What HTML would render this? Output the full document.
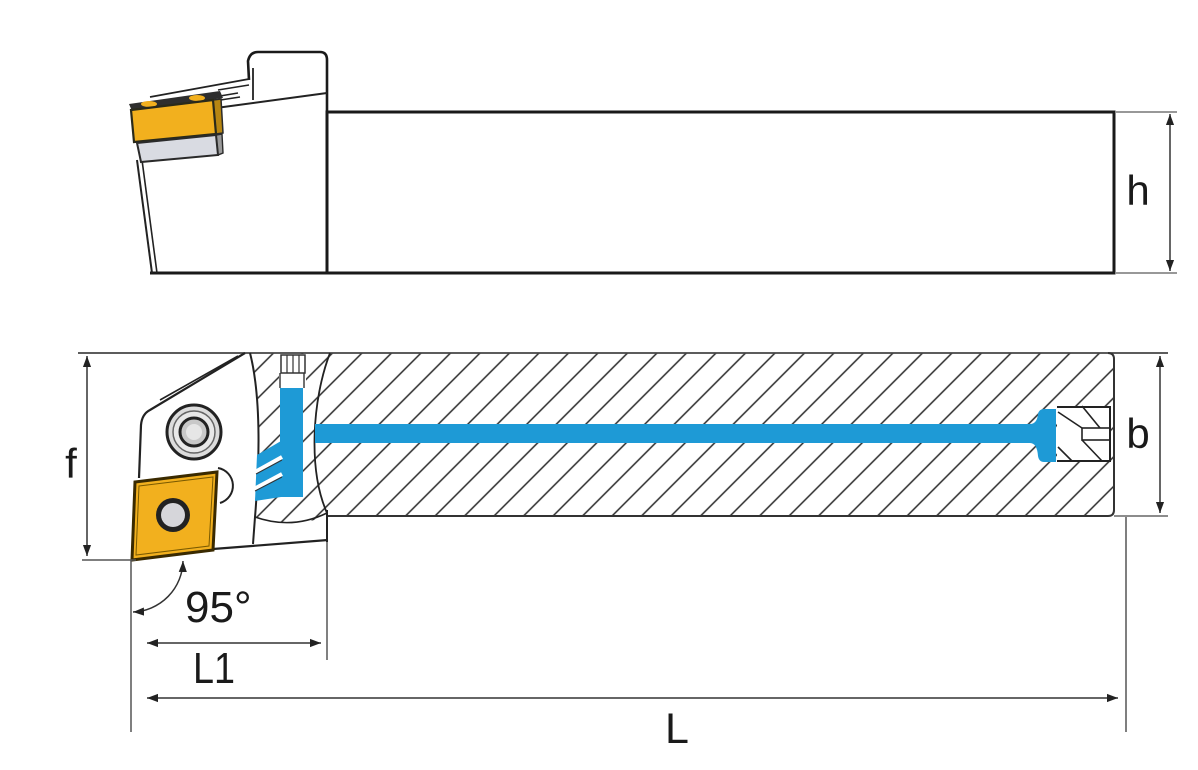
<!DOCTYPE html>
<html><head><meta charset="utf-8"><style>
html,body{margin:0;padding:0;background:#fff;}
svg{display:block}
text{font-family:"Liberation Sans",sans-serif;fill:#1a1a1a}
</style></head><body>
<svg width="1198" height="770" viewBox="0 0 1198 770" xmlns="http://www.w3.org/2000/svg">
<defs>
<marker id="ar" viewBox="0 0 10 10" refX="10" refY="5" markerWidth="11" markerHeight="11" markerUnits="userSpaceOnUse" orient="auto-start-reverse"><path d="M0,1.3 L10,5 L0,8.7 Z" fill="#222"/></marker>
<pattern id="hatch" patternUnits="userSpaceOnUse" width="20.86" height="20.86" patternTransform="rotate(-45) translate(0,-5.48)">
<line x1="-2" y1="10.43" x2="24" y2="10.43" stroke="#2a2a2a" stroke-width="1.4"/>
</pattern>
</defs>
<rect width="1198" height="770" fill="#fff"/>

<!-- ================= TOP VIEW ================= -->
<rect x="327" y="112" width="787" height="161" fill="none" stroke="#1a1a1a" stroke-width="3"/>
<line x1="150" y1="273" x2="327" y2="273" stroke="#1a1a1a" stroke-width="3"/>
<line x1="137" y1="160" x2="152" y2="273" stroke="#222" stroke-width="2"/>
<line x1="142" y1="160" x2="157" y2="273" stroke="#222" stroke-width="1.6"/>
<path d="M327,273 L327,60 Q327,52 320,52 L258,52 Q250,52 248,61 L249,80" fill="none" stroke="#1a1a1a" stroke-width="2.6"/>
<line x1="253" y1="68" x2="253" y2="100" stroke="#222" stroke-width="1.8"/>
<line x1="216" y1="108" x2="327" y2="93" stroke="#222" stroke-width="2"/>
<line x1="150" y1="97" x2="249" y2="79" stroke="#222" stroke-width="1.8"/>
<line x1="218" y1="90" x2="249" y2="85" stroke="#222" stroke-width="1.5"/>
<line x1="214" y1="97" x2="238" y2="93" stroke="#222" stroke-width="1.5"/>
<line x1="214" y1="101" x2="240" y2="97" stroke="#222" stroke-width="1.5"/>
<!-- clamp dark band -->
<polygon points="129,104 220,91 223,98 132,111" fill="#2e2e2e"/>
<ellipse cx="149" cy="104" rx="8" ry="3" fill="#F2B01E"/>
<ellipse cx="197" cy="98" rx="8" ry="3" fill="#F2B01E"/>
<!-- insert -->
<polygon points="213,100 221,99 223,133 216,134" fill="#b78612" stroke="#2a2a2a" stroke-width="1.5"/>
<polygon points="131,110 213,100 216,134 134,142" fill="#F2B01E" stroke="#2a2a1a" stroke-width="2.2"/>
<!-- shim -->
<polygon points="216,135 222,134 223,153 218,155" fill="#9a9a9a" stroke="#2a2a2a" stroke-width="1.4"/>
<polygon points="137,143 216,135 218,155 141,162" fill="#d9dbe2" stroke="#2a2a2a" stroke-width="2"/>

<!-- h dimension -->
<line x1="1116" y1="112" x2="1177" y2="112" stroke="#777" stroke-width="1.4"/>
<line x1="1116" y1="273" x2="1177" y2="273" stroke="#777" stroke-width="1.4"/>
<line x1="1170" y1="114" x2="1170" y2="271" stroke="#333" stroke-width="1.5" marker-start="url(#ar)" marker-end="url(#ar)"/>
<text x="1138" y="205" font-size="42" text-anchor="middle">h</text>

<!-- ================= PLAN VIEW ================= -->
<!-- hatch -->
<path d="M250,353 L1108,353 Q1114,353 1114,359 L1114,510 Q1114,516 1108,516 L327,516 Q292,530 255,517 C259,470 262,400 250,353 Z" fill="url(#hatch)"/>
<!-- cover areas -->
<rect x="279" y="354" width="27" height="34" fill="#fff"/>
<rect x="1057" y="406" width="54" height="56" fill="#fff"/>

<line x1="78" y1="353" x2="1168" y2="353" stroke="#444" stroke-width="1.8"/>
<path d="M1108,353 Q1114,353 1114,359 L1114,510 Q1114,516 1108,516 L327,516" fill="none" stroke="#333" stroke-width="2"/>
<line x1="1114" y1="516" x2="1168" y2="516" stroke="#666" stroke-width="1.4"/>

<!-- head outline -->
<path d="M139,478 L141,425 Q142,414 150,410 L245,353" fill="none" stroke="#222" stroke-width="2.2"/>
<line x1="160" y1="400" x2="238" y2="356" stroke="#222" stroke-width="1.6"/>
<path d="M250,353 C262,400 259,470 255,517 L253,544" fill="none" stroke="#222" stroke-width="2"/>
<path d="M330,353 C312,400 308,470 327,513" fill="none" stroke="#222" stroke-width="1.8"/>
<path d="M255,517 Q292,530 327,513" fill="none" stroke="#222" stroke-width="1.6"/>
<line x1="327" y1="510" x2="327" y2="542" stroke="#222" stroke-width="2"/>
<line x1="213" y1="549" x2="328" y2="540" stroke="#222" stroke-width="2.2"/>
<path d="M218,468 A18,18 0 0 1 220,503" fill="none" stroke="#222" stroke-width="2"/>

<!-- screw -->
<circle cx="194" cy="432" r="27" fill="#dcdcdc" stroke="#222" stroke-width="3"/>
<circle cx="194" cy="432" r="21" fill="#e8e8e8" stroke="#666" stroke-width="1.5"/>
<circle cx="194" cy="432" r="14" fill="#c8c8c8" stroke="#222" stroke-width="3"/>
<circle cx="194" cy="432" r="8" fill="#e6e6e6"/>

<!-- insert plan -->
<polygon points="135,482 217,472 213,550 132,560" fill="#F2B01E" stroke="#3a2a00" stroke-width="3"/>
<polygon points="139,486 213,477 209,546 136,555" fill="none" stroke="#7a5a00" stroke-width="1"/>
<circle cx="173" cy="515" r="17" fill="#222"/>
<circle cx="173" cy="515" r="12" fill="#d6d6da"/>

<!-- blue coolant -->
<rect x="280" y="388" width="23" height="109" fill="#1E9AD6"/>
<polygon points="257,455 281,441 281,497 255,501" fill="#1E9AD6"/>
<line x1="255" y1="472" x2="282" y2="457" stroke="#fff" stroke-width="4"/>
<line x1="254" y1="489" x2="282" y2="474" stroke="#fff" stroke-width="4"/>
<line x1="256" y1="474" x2="282" y2="460" stroke="#333" stroke-width="1"/>
<line x1="255" y1="491" x2="282" y2="477" stroke="#333" stroke-width="1"/>
<path d="M315,424 L1030,424 Q1037,424 1038,414 Q1039,409 1044,409 L1056,409 L1056,462 L1044,462 Q1039,462 1038,456 Q1037,443 1030,443 L315,443 Z" fill="#1E9AD6"/>

<!-- small screw -->
<rect x="281" y="355" width="24" height="18" fill="none" stroke="#333" stroke-width="1.5"/>
<line x1="287" y1="355" x2="287" y2="373" stroke="#333" stroke-width="1.2"/>
<line x1="293" y1="355" x2="293" y2="373" stroke="#333" stroke-width="1.2"/>
<line x1="299" y1="355" x2="299" y2="373" stroke="#333" stroke-width="1.2"/>
<line x1="280" y1="373" x2="280" y2="388" stroke="#333" stroke-width="1.4"/>
<line x1="304" y1="373" x2="304" y2="388" stroke="#333" stroke-width="1.4"/>

<!-- end fitting -->
<line x1="1057" y1="407" x2="1111" y2="407" stroke="#222" stroke-width="2"/>
<line x1="1057" y1="461" x2="1111" y2="461" stroke="#222" stroke-width="2"/>
<line x1="1110" y1="407" x2="1110" y2="461" stroke="#222" stroke-width="2"/>
<line x1="1058" y1="412" x2="1082" y2="428" stroke="#222" stroke-width="1.6"/>
<line x1="1082" y1="406" x2="1100" y2="428" stroke="#222" stroke-width="1.6"/>
<rect x="1082" y="428" width="28" height="12" fill="none" stroke="#222" stroke-width="1.6"/>
<line x1="1058" y1="447" x2="1072" y2="461" stroke="#222" stroke-width="1.6"/>
<line x1="1082" y1="440" x2="1102" y2="461" stroke="#222" stroke-width="1.6"/>

<!-- b dimension -->
<line x1="1160" y1="356" x2="1160" y2="513" stroke="#333" stroke-width="1.5" marker-start="url(#ar)" marker-end="url(#ar)"/>
<text x="1138" y="448" font-size="42" text-anchor="middle">b</text>

<!-- f dimension -->
<line x1="82" y1="560" x2="136" y2="560" stroke="#555" stroke-width="1.5"/>
<line x1="87" y1="356" x2="87" y2="556" stroke="#333" stroke-width="1.5" marker-start="url(#ar)" marker-end="url(#ar)"/>
<text x="71" y="478" font-size="42" text-anchor="middle">f</text>

<!-- extension lines -->
<line x1="131" y1="560" x2="131" y2="732" stroke="#555" stroke-width="1.5"/>
<line x1="327" y1="542" x2="327" y2="660" stroke="#555" stroke-width="1.5"/>
<line x1="1126" y1="517" x2="1126" y2="732" stroke="#555" stroke-width="1.5"/>

<!-- 95 deg -->
<path d="M183,561 A52,52 0 0 1 133,612" fill="none" stroke="#333" stroke-width="1.5" marker-start="url(#ar)" marker-end="url(#ar)"/>
<text x="185" y="622" font-size="44">95°</text>

<!-- L1 -->
<line x1="147" y1="643" x2="321" y2="643" stroke="#333" stroke-width="1.5" marker-start="url(#ar)" marker-end="url(#ar)"/>
<text x="193" y="683" font-size="44" textLength="42" lengthAdjust="spacingAndGlyphs">L1</text>

<!-- L -->
<line x1="147" y1="698" x2="1118" y2="698" stroke="#333" stroke-width="1.5" marker-start="url(#ar)" marker-end="url(#ar)"/>
<text x="677" y="743" font-size="43" text-anchor="middle">L</text>
</svg>
</body></html>
